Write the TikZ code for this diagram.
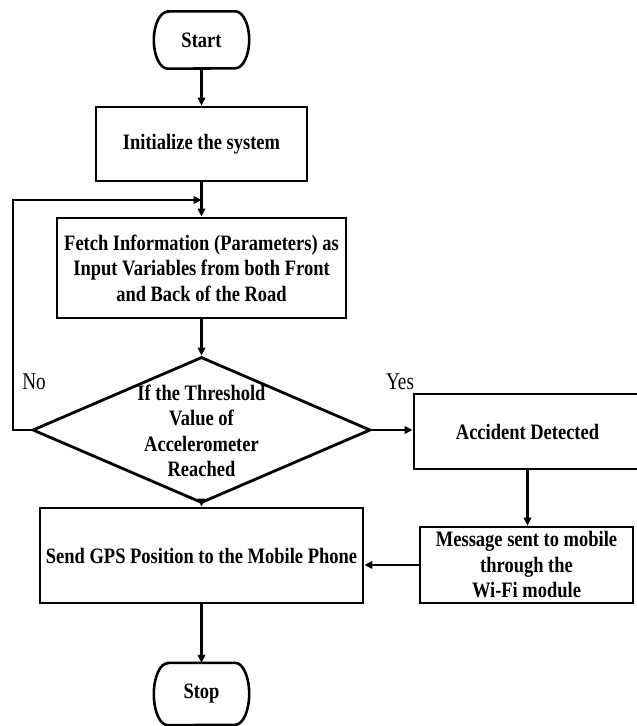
\documentclass[tikz,border=0pt]{standalone}
\usepackage{fontspec}
\setmainfont{Liberation Serif}[FakeStretch=0.84]
\newfontfamily\labfont{Liberation Serif}[FakeStretch=0.8]
\usetikzlibrary{arrows.meta,shapes.geometric}
\begin{document}
\begin{tikzpicture}[x=1pt,y=-1pt,
  txt/.style={inner sep=0pt, align=center, font=\bfseries\fontsize{22}{25.5}\selectfont},
  box/.style={txt, draw, line width=2.8pt},
  conn/.style={line width=2.4pt, -{Triangle[length=8pt,width=7.5pt]}},
  lab/.style={inner sep=0pt, font=\labfont\fontsize{24}{24}\selectfont},
  term/.style={line width=2.6pt}]
\useasboundingbox (0,0) rectangle (637,726);
\fill[white] (0,0) rectangle (637,726);

% Start terminal
\node[txt, minimum width=95pt, minimum height=57pt] (start) at (201.5,40) {Start};
\draw[term] ([xshift=14pt]start.north west) -- ([xshift=-14pt]start.north east)
  arc[start angle=90,end angle=-90,x radius=14pt,y radius=28.5pt]
  -- ([xshift=14pt]start.south west)
  arc[start angle=270,end angle=90,x radius=14pt,y radius=28.5pt] -- cycle;

\node[box, minimum width=211pt, minimum height=74pt] (init) at (201.5,144) {Initialize the system};
\node[box, minimum width=289pt, minimum height=100pt] (fetch) at (201.5,268)
  {Fetch Information (Parameters) as\\Input Variables from both Front\\and Back of the Road};
\node[diamond, draw, line width=2.8pt, inner sep=0pt, minimum width=338pt, minimum height=146pt] (dec) at (201.5,430) {};
\node[txt] (dect) at (201.5,431) {If the Threshold\\Value of\\Accelerometer\\Reached};
\node[box, minimum width=227pt, minimum height=75pt] (acc) at (527.5,431.5) {Accident Detected};
\node[box, minimum width=213pt, minimum height=76pt] (msg) at (526.5,565) {Message sent to mobile\\through the\\Wi-Fi module};
\node[box, minimum width=323pt, minimum height=95pt] (gps) at (201.5,555.5) {Send GPS Position to the Mobile Phone};

% Stop terminal
\node[txt, minimum width=95pt, minimum height=62pt] (stop) at (201.5,694) {Stop};
\draw[term] ([xshift=14pt]stop.north west) -- ([xshift=-14pt]stop.north east)
  arc[start angle=90,end angle=-90,x radius=14pt,y radius=31pt]
  -- ([xshift=14pt]stop.south west)
  arc[start angle=270,end angle=90,x radius=14pt,y radius=31pt] -- cycle;

% labels
\node[lab] (no) at (34,382) {No};
\node[lab] (yes) at (400,382) {Yes};

% connectors
\coordinate (lp) at (201.5,200);
\coordinate (lc1) at (13,430);
\coordinate (lc2) at (13,200);
\draw[conn] (start.south) -- (init.north);
\draw[conn] (init.south) -- (fetch.north);
\draw[conn] (dec.west) -- (lc1) -- (lc2) -- (lp);
\draw[conn] (fetch.south) -- (dec.north);
\draw[conn] (dec.east) -- (dec.east -| acc.west);
\draw[conn] (dec.south) -- (gps.north);
\draw[conn] (acc.south) -- (acc.south |- msg.north);
\draw[conn] (msg.west) -- (msg.west -| gps.east);
\draw[conn] (gps.south) -- (stop.north);
\end{tikzpicture}
\end{document}
